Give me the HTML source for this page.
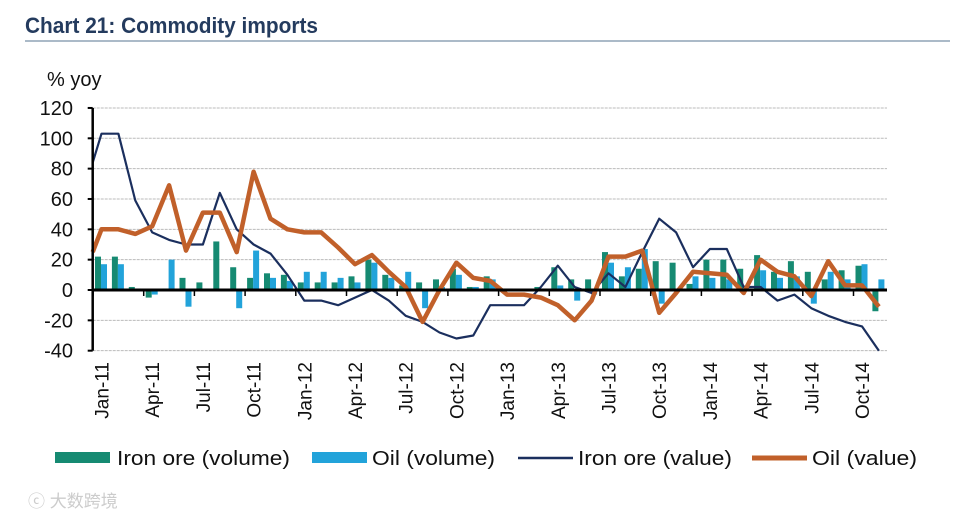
<!DOCTYPE html>
<html><head><meta charset="utf-8"><style>
html,body{margin:0;padding:0;background:#fff;width:960px;height:518px;overflow:hidden}
svg{display:block;font-family:"Liberation Sans",sans-serif}
</style></head><body>
<svg id="chart" width="960" height="518" viewBox="0 0 960 518">
<text x="25" y="33" font-size="22" font-weight="bold" fill="#243b5e" textLength="293" lengthAdjust="spacingAndGlyphs">Chart 21: Commodity imports</text>
<line x1="25" y1="41" x2="950" y2="41" stroke="#8fa3b5" stroke-width="1.5"/>
<text x="47" y="86" font-size="20" fill="#111">% yoy</text>
<g id="grid"></g><g id="bars"></g><g id="lines"></g><g id="axes"></g><g id="legend"></g>
<text x="28" y="507" font-size="17" fill="#ccc">ⓒ 大数跨境</text>
</svg>
<script>
const months = ["Jan-11","Feb-11","Mar-11","Apr-11","May-11","Jun-11","Jul-11","Aug-11","Sep-11","Oct-11","Nov-11","Dec-11","Jan-12","Feb-12","Mar-12","Apr-12","May-12","Jun-12","Jul-12","Aug-12","Sep-12","Oct-12","Nov-12","Dec-12","Jan-13","Feb-13","Mar-13","Apr-13","May-13","Jun-13","Jul-13","Aug-13","Sep-13","Oct-13","Nov-13","Dec-13","Jan-14","Feb-14","Mar-14","Apr-14","May-14","Jun-14","Jul-14","Aug-14","Sep-14","Oct-14","Nov-14"];
const ironVolume = [22,22,2,-5,1,8,5,32,15,8,11,10,5,5,5,9,20,10,3,5,7,14,2,9,1,0,2,15,7,7,25,9,14,19,18,4,20,20,14,23,12,19,12,7,13,16,-14];
const oilVolume = [17,17,1,-3,20,-11,1,0,-12,26,8,6,12,12,8,5,18,8,12,-12,2,10,2,7,1,0,1,3,-7,-3,18,15,27,-9,0,9,8,7,3,13,8,9,-9,12,7,17,7];
const ironValue = [103,103,59,38,33,30,30,64,40,30,24,10,-7,-7,-10,-5,0,-7,-17,-21,-28,-32,-30,-10,-10,-10,2,16,2,-2,11,2,25,47,38,15,27,27,2,2,-7,-3,-12,-17,-21,-24,-40];
const oilValue = [40,40,37,42,69,26,51,51,25,78,47,40,38,38,28,17,23,12,2,-21,0,18,8,6,-3,-3,-5,-10,-20,-7,22,22,26,-15,-2,12,11,10,-2,20,12,9,-4,19,3,3,-11];
const ironValueStart = 65, oilValueStart = 10;
const yTicks = [120,100,80,60,40,20,0,-20,-40];
const xLabelEvery = 3;

const NS="http://www.w3.org/2000/svg";
const X0=92.7, STEP=16.9, Y0=290, PX=1.517;
const xc=i=>X0+8.5+STEP*i+0.3;
const yv=v=>Y0-v*PX;
function mk(tag,attrs,parent){const e=document.createElementNS(NS,tag);for(const k in attrs)e.setAttribute(k,attrs[k]);parent.appendChild(e);return e;}
const grid=document.getElementById('grid'),bars=document.getElementById('bars'),lines=document.getElementById('lines'),axes=document.getElementById('axes'),legend=document.getElementById('legend');
const xEnd=X0+STEP*months.length;
yTicks.forEach(t=>{
  if(t!==0){const g=mk('line',{x1:X0,x2:xEnd,y1:yv(t),y2:yv(t),stroke:'#bbb','stroke-width':1,'stroke-dasharray':'3,1'},grid);
  
  }
  const tk=mk('line',{x1:X0-5,x2:X0,y1:yv(t),y2:yv(t),stroke:'#000','stroke-width':2},axes);
  
  
  const lb=mk('text',{x:73,y:yv(t)+7,'font-size':20,'text-anchor':'end',fill:'#111'},axes);
  lb.textContent=t;
  
  
});
months.forEach((m,i)=>{
  const a=ironVolume[i],b=oilVolume[i];
  const r1=mk('rect',{x:xc(i)-6.5,width:6,y:Math.min(yv(a),Y0),height:Math.abs(yv(a)-Y0),fill:'#168a72'},bars);
  
  
  const r2=mk('rect',{x:xc(i)-0.5,width:6,y:Math.min(yv(b),Y0),height:Math.abs(yv(b)-Y0),fill:'#22a3da'},bars);
  
  
  if(i%xLabelEvery===0){
    const lx=xc(i)+7,ly=362;
    const t=mk('text',{x:lx,y:ly,'font-size':19,'text-anchor':'end',fill:'#111',transform:`rotate(-90 ${lx} ${ly})`},axes);
    t.textContent=m;
    
    
    const tm=mk('line',{x1:xc(i)-8.5,x2:xc(i)-8.5,y1:Y0,y2:Y0+6,stroke:'#000','stroke-width':1.5},axes);
    
    
  }
});
function pathOf(arr,start){let d=`M${X0} ${yv((start+arr[0])/2)}`;arr.forEach((v,i)=>{d+=` L${xc(i).toFixed(1)} ${yv(v).toFixed(1)}`});return d;}
const p1=mk('path',{d:pathOf(ironValue,ironValueStart),fill:'none',stroke:'#1b2f5e','stroke-width':2.2,'stroke-linejoin':'round'},lines);


const p2=mk('path',{d:pathOf(oilValue,oilValueStart),fill:'none',stroke:'#c1602a','stroke-width':4.5,'stroke-linejoin':'round'},lines);


const za=mk('line',{x1:X0,x2:xEnd,y1:Y0,y2:Y0,stroke:'#000','stroke-width':3},axes);


const ya=mk('line',{x1:X0,x2:X0,y1:yv(120),y2:yv(-40),stroke:'#000','stroke-width':2.5},axes);


const items=[["Iron ore (volume)",'rect','#168a72',55,117,173],["Oil (volume)",'rect','#22a3da',312,372,123],["Iron ore (value)",'line','#1b2f5e',518,578,154],["Oil (value)",'line','#c1602a',752,812,105]];
items.forEach(([name,kind,col,sx,tx,tw])=>{
  let s;
  if(kind==='rect') s=mk('rect',{x:sx,y:452,width:55,height:11,fill:col},legend);
  else s=mk('line',{x1:sx,x2:sx+55,y1:458,y2:458,stroke:col,'stroke-width':name==='Oil (value)'?5:2.5},legend);
  
  
  const t=mk('text',{x:tx,y:465,'font-size':20,fill:'#111',textLength:tw,lengthAdjust:'spacingAndGlyphs'},legend);
  t.textContent=name;
  
  
});
</script>
</body></html>
